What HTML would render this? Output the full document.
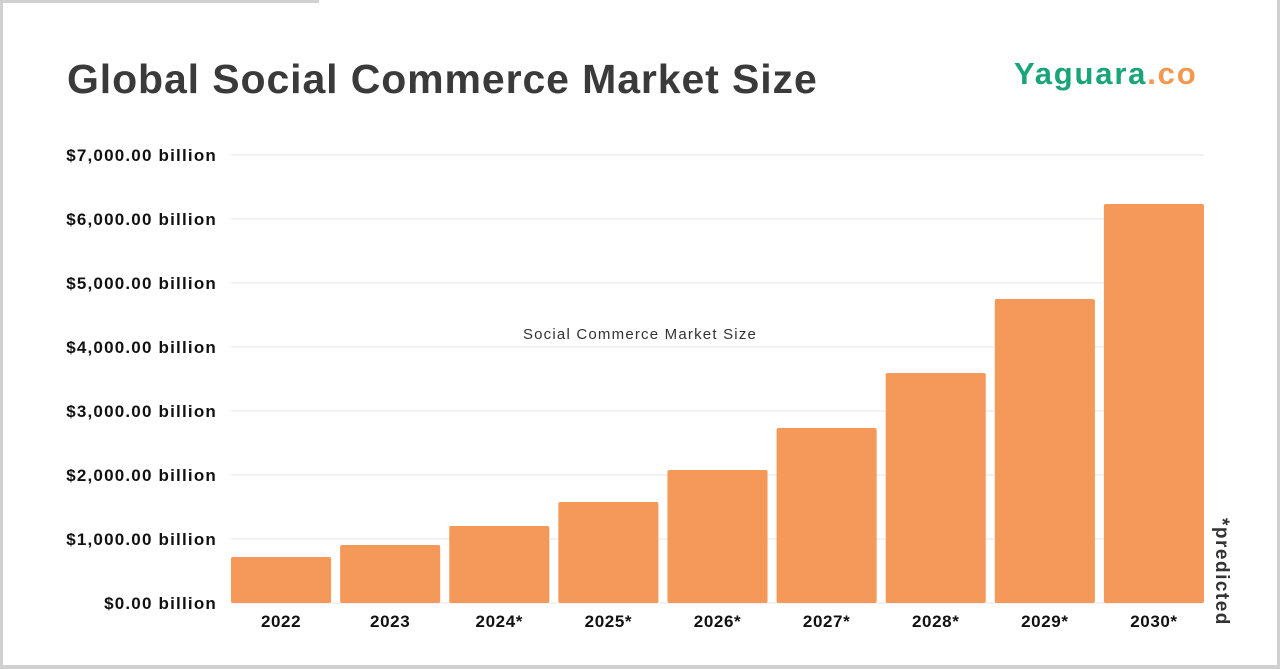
<!DOCTYPE html>
<html><head><meta charset="utf-8"><style>
body{margin:0;width:1280px;height:669px;background:#fff;overflow:hidden;position:relative;font-family:"Liberation Sans",sans-serif}
.b{position:absolute;background:#d0d0d0}
</style></head><body>
<div class="b" style="left:0;top:0;width:319px;height:3px"></div>
<div class="b" style="left:0;top:0;width:3px;height:669px"></div>
<div class="b" style="left:1277px;top:0;width:3px;height:669px"></div>
<div class="b" style="left:0;top:665px;width:1280px;height:4px"></div>
<div style="position:absolute;left:67px;top:56px;font-size:41px;font-weight:bold;color:#3a3a3a;letter-spacing:0.9px">Global Social Commerce Market Size</div>
<div style="position:absolute;left:1014px;top:56px;font-size:31px;font-weight:bold;color:#19a47a;letter-spacing:1.8px">Yaguara<span style="color:#f4974f">.co</span></div>
<svg id="c" width="1280" height="669" style="position:absolute;left:0;top:0"></svg>
<script>
const categories=["2022","2023","2024*","2025*","2026*","2027*","2028*","2029*","2030*"];
const values=[719,906,1203,1578,2078,2734,3594,4750,6234];
const ticks=[0,1000,2000,3000,4000,5000,6000,7000];
const tickLabels=["$0.00 billion","$1,000.00 billion","$2,000.00 billion","$3,000.00 billion","$4,000.00 billion","$5,000.00 billion","$6,000.00 billion","$7,000.00 billion"];
const svg=document.getElementById('c');const NS="http://www.w3.org/2000/svg";
const x0=231,x1=1204,y0=603,yTop=155,maxV=7000;
const y=v=>y0-(v/maxV)*(y0-yTop);
const step=(x1-x0+9)/categories.length,bw=step-9;
const xb=i=>x0+i*step;
function mk(t,a){const e=document.createElementNS(NS,t);for(const k in a)e.setAttribute(k,a[k]);svg.appendChild(e);return e;}
ticks.forEach((t,i)=>{
const g=mk('line',{x1:x0,x2:x1,y1:y(t),y2:y(t),stroke:'#e6e6e6','stroke-width':1});


const l=mk('text',{x:217,y:y(t)+6,'text-anchor':'end','font-size':17,'font-weight':'bold',fill:'#111','letter-spacing':1.2});l.textContent=tickLabels[i];


});
values.forEach((v,i)=>{
const r=mk('rect',{x:xb(i),y:y(v),width:bw,height:y0-y(v),fill:'#f5995b',rx:2});


const l=mk('text',{x:xb(i)+bw/2,y:627,'text-anchor':'middle','font-size':17,'font-weight':'bold',fill:'#111','letter-spacing':0.6});l.textContent=categories[i];


});
const st=mk('text',{x:640,y:339,'text-anchor':'middle','font-size':15,fill:'#333','letter-spacing':1.2});st.textContent="Social Commerce Market Size";


const p=mk('text',{x:0,y:0,'font-size':19,'font-weight':'bold',fill:'#333','letter-spacing':1.5,transform:'translate(1216,518) rotate(90)'});p.textContent="*predicted";


</script>
</body></html>
